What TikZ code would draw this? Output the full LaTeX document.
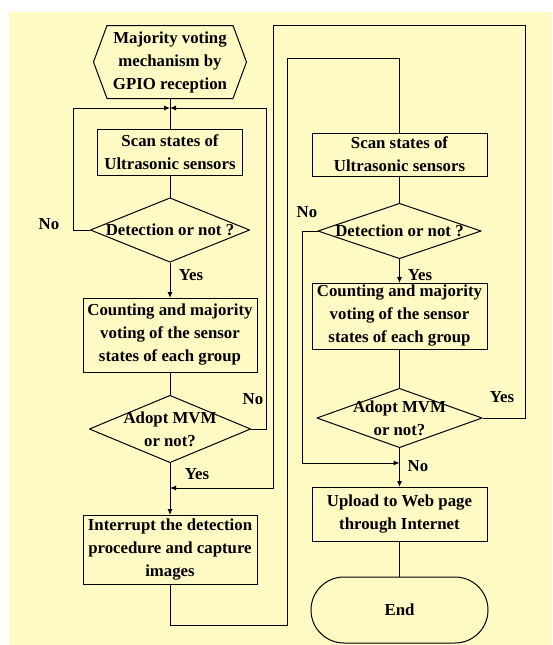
\documentclass[tikz,border=0pt]{standalone}
\usepackage{fontspec}
\setmainfont{Liberation Serif}
\usetikzlibrary{shapes.misc,arrows.meta}

\definecolor{paperyellow}{RGB}{255,249,196}

\begin{document}
\begin{tikzpicture}[x=1pt, y=-1pt, line width=1pt,
    every node/.style={font=\bfseries\fontsize{16.8}{23}\selectfont, align=center, inner sep=1pt, outer sep=0pt},
    procbox/.style={rectangle, draw=black},
    startnode/.style={rectangle, path picture={
        \draw ([xshift=14pt,yshift=-0.5pt]path picture bounding box.north west) -- ([xshift=-14pt,yshift=-0.5pt]path picture bounding box.north east)
           -- ([xshift=-0.5pt]path picture bounding box.east) -- ([xshift=-14pt,yshift=0.5pt]path picture bounding box.south east)
           -- ([xshift=14pt,yshift=0.5pt]path picture bounding box.south west) -- ([xshift=0.5pt]path picture bounding box.west) -- cycle;}},
    decision/.style={rectangle, path picture={
        \draw ([yshift=-0.5pt]path picture bounding box.north) -- ([xshift=-0.5pt]path picture bounding box.east)
           -- ([yshift=0.5pt]path picture bounding box.south) -- ([xshift=0.5pt]path picture bounding box.west) -- cycle;}},
    endnode/.style={rounded rectangle, draw=black},
    lbl/.style={inner sep=0pt},
    arr/.style={-{Latex[length=6pt,width=5pt]}}
    ]
    \fill [white] (0,0) rectangle (552,645);
    \fill [paperyellow] (9,12) rectangle (552,645);
    \useasboundingbox (0,0) rectangle (552,645);

    % left column
    \node [startnode, minimum width=154pt, minimum height=74pt] (start) at (170, 62) {Majority voting\\mechanism by\\GPIO reception};
    \coordinate (j1) at (170, 108);
    \node [procbox, minimum width=145pt, minimum height=46pt] (scan1) at (170, 152) {Scan states of\\Ultrasonic sensors};
    \node [decision, minimum width=160pt, minimum height=65pt] (det1) at (170, 230) {Detection or not ?};
    \node [procbox, minimum width=174pt, minimum height=74pt] (cnt1) at (170, 335) {Counting and majority\\voting of the sensor\\states of each group};
    \node [decision, minimum width=162pt, minimum height=68pt] (adopt1) at (170, 429) {Adopt MVM\\or not?};
    \coordinate (j2) at (170, 488);
    \node [procbox, minimum width=174pt, minimum height=69pt] (cap1) at (170, 549.5) {Interrupt the detection\\procedure and capture\\images};

    % right column
    \node [procbox, minimum width=175pt, minimum height=43pt] (scan2) at (399.5, 154.5) {Scan states of\\Ultrasonic sensors};
    \node [decision, minimum width=164pt, minimum height=56pt] (det2) at (399.5, 231) {Detection or not ?};
    \node [procbox, minimum width=175pt, minimum height=66pt] (cnt2) at (399.5, 316) {Counting and majority\\voting of the sensor\\states of each group};
    \node [decision, minimum width=166pt, minimum height=60pt] (adopt2) at (399.5, 418) {Adopt MVM\\or not?};
    \coordinate (j3) at (399.5, 463);
    \node [procbox, minimum width=175pt, minimum height=54pt] (upload) at (399.5, 514) {Upload to Web page\\through Internet};
    \node [endnode, minimum width=179pt, minimum height=66pt] (end) at (399.5, 610) {End};

    % labels
    \node [lbl] (no1) at (49, 224) {No};
    \node [lbl] (yes1) at (191, 275) {Yes};
    \node [lbl] (no2) at (253, 399) {No};
    \node [lbl] (yes2) at (197, 474) {Yes};
    \node [lbl] (no3) at (307, 212) {No};
    \node [lbl] (yes3) at (420, 275) {Yes};
    \node [lbl] (yes4) at (502, 397) {Yes};
    \node [lbl] (no4) at (418, 466) {No};

    \draw (start) -- (scan1);
    \draw (scan1) -- (det1);
    \draw [arr] (det1) -- (cnt1);
    \draw [arr] (det1.west) -- ++(-17,0) |- (j1);
    \draw (cnt1) -- (adopt1);
    \draw [arr] (adopt1.east) -- ++(15,0) |- (j1);
    \draw [arr] (adopt1) -- (cap1);
    \draw [arr] (adopt2.east) -- (525, 418) -- (525, 25) -- (273, 25) |- (j2);
    \draw (cap1) -- (170, 625) -| (287, 58) -| (scan2);

    \draw (scan2) -- (det2);
    \draw [arr] (det2) -- (cnt2);
    \draw [arr] (det2.west) -- (302, 231) |- (j3);
    \draw (cnt2) -- (adopt2);
    \draw [arr] (adopt2) -- (upload);
    \draw (upload) -- (end);
\end{tikzpicture}
\end{document}
